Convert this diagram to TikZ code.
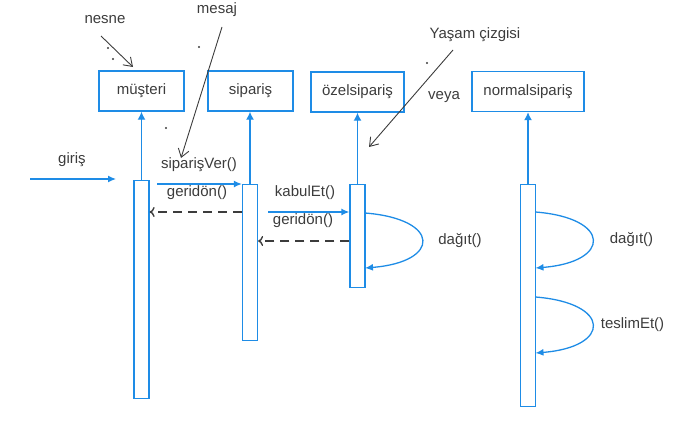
\documentclass[tikz,border=0pt]{standalone}
\usepackage{fontspec}
\setmainfont{Liberation Sans}
\usetikzlibrary{arrows.meta}
\definecolor{seqblue}{RGB}{30,140,230}
\definecolor{notegray}{RGB}{60,60,60}
\tikzset{
    obj/.style={draw=seqblue, line width=1.4pt, minimum height=40pt, inner sep=0pt, text=notegray},
    act/.style={draw=seqblue, line width=1.3pt, minimum width=15pt, inner sep=0pt, anchor=north},
    lbl/.style={text=notegray, inner sep=1pt},
    life/.style={seqblue, line width=1.3pt, -{Latex[length=8pt,width=8pt]}},
    msg/.style={seqblue, line width=1.3pt, -{Latex[length=8pt,width=7pt]}},
    ret/.style={notegray, line width=1.4pt, dash pattern=on 9pt off 6pt, -{To[length=5pt,width=10pt]}},
    note/.style={notegray, line width=0.9pt, -{Straight Barb[length=8pt,width=11pt]}},
}
% name, x at bar edge, y out, y in, label offset, label
\newcommand\SelfCall[6]{%
    \coordinate (#1Out) at (#2,#3);
    \coordinate (#1In) at (#2,#4);
    \draw[msg] (#1Out) .. controls ({#2+76},{#3+6}) and ({#2+76},{#4-6}) .. (#1In);
    \node[lbl] (#1Lbl) at ({#2+#5},{(#3+#4)/2}) {#6};
}

\begin{document}
\begin{tikzpicture}[x=1pt, y=-1pt, font=\fontsize{15}{18}\selectfont]
    \useasboundingbox (0,0) rectangle (695,420);
    % objects
    \node[obj, minimum width=85pt] (mus) at (141.5,91) {müşteri};
    \node[obj, minimum width=85pt] (sip) at (250.5,91) {sipariş};
    \node[obj, minimum width=93pt] (ozel) at (357.5,92) {özelsipariş};
    \node[obj, minimum width=112pt] (norm) at (528,91.5) {normalsipariş};
    % activations
    \node[act, minimum height=218pt] (actMus) at (141.5,180) {};
    \node[act, minimum height=156pt] (actSip) at (250,184) {};
    \node[act, minimum height=103pt] (actOzel) at (357.5,184) {};
    \node[act, minimum height=222pt] (actNorm) at (528,184) {};
    \foreach \a/\o in {actMus/mus, actSip/sip, actOzel/ozel, actNorm/norm}
        \draw[life] (\a.north) -- (\a.north |- \o.south);
    % messages
    \coordinate (girisStart) at (30,179);
    \coordinate (girisEnd) at (116,179);
    \draw[msg] (girisStart) -- (girisEnd);
    \node[lbl] (girisLbl) at (72,160) {giriş};
    \coordinate (svStart) at (157,184);
    \draw[msg] (svStart) -- (svStart -| actSip.west);
    \node[lbl] (svLbl) at (199,165) {siparişVer()};
    \coordinate (r1) at (0,212);
    \draw[ret] (r1 -| actSip.west) -- (r1 -| actMus.east);
    \node[lbl] (r1Lbl) at (197,193) {geridön()};
    \coordinate (keStart) at (268,212);
    \draw[msg] (keStart) -- (keStart -| actOzel.west);
    \node[lbl] (keLbl) at (305,193) {kabulEt()};
    \coordinate (r2) at (0,241);
    \draw[ret] (r2 -| actOzel.west) -- (r2 -| actSip.east);
    \node[lbl] (r2Lbl) at (303,221) {geridön()};
    % self calls
    \SelfCall{dagitA}{365}{213}{268}{95}{dağıt()}
    \SelfCall{dagitB}{535.5}{212}{268}{96}{dağıt()}
    \SelfCall{teslim}{535.5}{297}{353}{97}{teslimEt()}
    % notes
    \node[lbl] (nesneLbl) at (105,20) {nesne};
    \coordinate (nesneFoot) at (101,36);
    \coordinate (nesneTip) at (133,67);
    \draw[note] (nesneFoot) -- (nesneTip);
    \node[lbl] (mesajLbl) at (217,10) {mesaj};
    \coordinate (mesajFoot) at (222,27);
    \coordinate (mesajTip) at (181,158);
    \draw[note] (mesajFoot) -- (mesajTip);
    \node[lbl] (yasamLbl) at (475,35) {Yaşam çizgisi};
    \coordinate (yasamFoot) at (453,50);
    \coordinate (yasamTip) at (369,147);
    \draw[note] (yasamFoot) -- (yasamTip);
    \node[lbl] (veyaLbl) at (444,97) {veya};
    \foreach \p in {(108,48), (113,59), (199,47), (166,128), (427,63)}
        \fill[notegray] \p circle (1.1);
\end{tikzpicture}
\end{document}
